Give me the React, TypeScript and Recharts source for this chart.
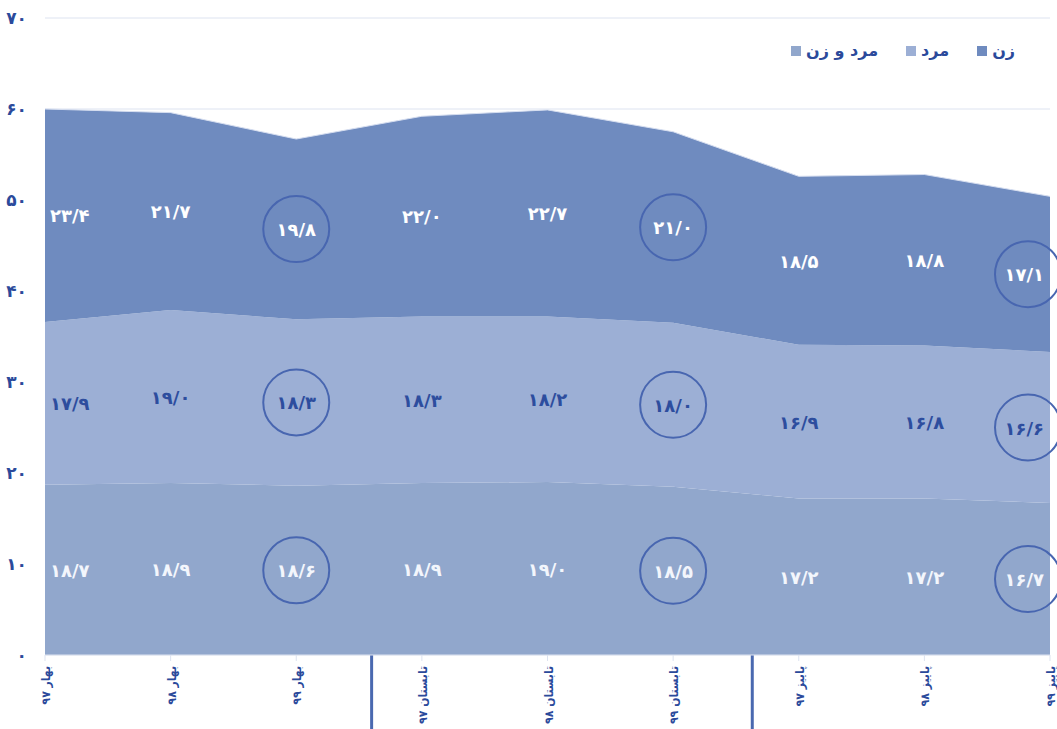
import React from 'react'
import {
  ComposedChart,
  Area,
  Line,
  XAxis,
  YAxis,
  CartesianGrid,
  LabelList,
  ReferenceLine,
} from 'recharts'

const categories = [
  'بهار ۹۷',
  'بهار ۹۸',
  'بهار ۹۹',
  'تابستان ۹۷',
  'تابستان ۹۸',
  'تابستان ۹۹',
  'پاییز ۹۷',
  'پاییز ۹۸',
  'پاییز ۹۹',
]
// stacked bottom -> top
const mardoZan = [18.7, 18.9, 18.6, 18.9, 19.0, 18.5, 17.2, 17.2, 16.7]
const mard = [17.9, 19.0, 18.3, 18.3, 18.2, 18.0, 16.9, 16.8, 16.6]
const zan = [23.4, 21.7, 19.8, 22.0, 22.7, 21.0, 18.5, 18.8, 17.1]
const yTicks = [0, 10, 20, 30, 40, 50, 60, 70]
const circled = [2, 5, 8]
const separators = [2.6, 5.63]

const C_ZAN = '#6f8bbf'
const C_MARD = '#9cafd5'
const C_BOTH = '#91a7cc'
const NAVY = '#2b4a9b'
const FONT = '"DejaVu Sans", sans-serif'
const FONT_NARROW = '"DejaVu Sans Condensed", "DejaVu Sans", sans-serif'

const data = categories.map((name, i) => ({
  i,
  name,
  mardoZan: mardoZan[i],
  mard: mard[i],
  zan: zan[i],
  midBottom: mardoZan[i] / 2,
  midMiddle: mardoZan[i] + mard[i] / 2,
  midTop: mardoZan[i] + mard[i] + zan[i] / 2,
}))

const faDigits = '۰۱۲۳۴۵۶۷۸۹'
const toFa = (s: string) => s.replace(/\d/g, (d) => faDigits[+d]).replace('.', '/')

const legendItems = [
  { label: 'مرد و زن', color: C_BOTH },
  { label: 'مرد', color: C_MARD },
  { label: 'زن', color: C_ZAN },
]

function makeLabel(values: number[], color: string) {
  return (props: any) => {
    const { x, y, index } = props
    const last = categories.length - 1
    let anchor: 'start' | 'middle' | 'end' = 'middle'
    let tx = x
    if (index === 0) {
      anchor = 'start'
      tx = x + 5
    } else if (index === last) {
      anchor = 'end'
      tx = x - 6
    }
    const cx = index === 0 ? x + 28 : index === last ? x - 22 : x
    return (
      <g>
        {circled.includes(index) && (
          <circle cx={cx} cy={y} r={33} fill="none" stroke="#4866b0" strokeWidth={2} />
        )}
        <text
          x={tx}
          y={y}
          dy={7}
          textAnchor={anchor}
          fill={color}
          fontFamily={FONT}
          fontWeight="bold"
          fontSize={18}
        >
          {toFa(values[index].toFixed(1))}
        </text>
      </g>
    )
  }
}

const XTick = (props: any) => {
  const { x, y, payload } = props
  return (
    <g transform={`translate(${x + 5},${y + 3}) rotate(-90)`}>
      <text textAnchor="end" fill={NAVY} fontFamily={FONT_NARROW} fontWeight="bold" fontSize={12}>
        {categories[payload.value]}
      </text>
    </g>
  )
}

const YTick = (props: any) => {
  const { x, y, payload } = props
  return (
    <text x={x} y={y} dy={6} textAnchor="end" fill={NAVY} fontFamily={FONT} fontWeight="bold" fontSize={17}>
      {toFa(String(payload.value))}
    </text>
  )
}

const Separator = (props: any) => {
  const { x1, y1, y2 } = props
  const base = Math.max(y1, y2)
  return <line x1={x1} x2={x1} y1={base} y2={base + 74} stroke="#4a69b0" strokeWidth={3} />
}

export default function App() {
  return (
    <div style={{ position: 'absolute', left: 0, top: 0, width: 1057, height: 729, background: '#fff' }}>
      <ComposedChart width={1057} height={729} data={data} margin={{ top: 18, right: 7, bottom: 0, left: 0 }}>
        <CartesianGrid vertical={false} stroke="#dde3f0" />
        <XAxis
          type="number"
          dataKey="i"
          domain={[0, 8]}
          ticks={[0, 1, 2, 3, 4, 5, 6, 7, 8]}
          interval={0}
          height={74}
          axisLine={{ stroke: '#dde3f0' }}
          tickLine={{ stroke: '#dde3f0' }}
          tickSize={6}
          tick={<XTick />}
        />
        <YAxis
          domain={[0, 70]}
          ticks={yTicks}
          width={45}
          axisLine={false}
          tickLine={false}
          tickSize={0}
          tickMargin={18}
          tick={<YTick />}
        />
        <Area
          dataKey="mardoZan"
          stackId="s"
          type="linear"
          fill={C_BOTH}
          fillOpacity={1}
          stroke="none"
          isAnimationActive={false}
        />
        <Area
          dataKey="mard"
          stackId="s"
          type="linear"
          fill={C_MARD}
          fillOpacity={1}
          stroke="none"
          isAnimationActive={false}
        />
        <Area
          dataKey="zan"
          stackId="s"
          type="linear"
          fill={C_ZAN}
          fillOpacity={1}
          stroke="#d6def0"
          strokeWidth={1}
          isAnimationActive={false}
        />
        <Line dataKey="midBottom" stroke="none" dot={false} activeDot={false} isAnimationActive={false}>
          <LabelList dataKey="midBottom" content={makeLabel(mardoZan, '#f3f6fc')} />
        </Line>
        <Line dataKey="midMiddle" stroke="none" dot={false} activeDot={false} isAnimationActive={false}>
          <LabelList dataKey="midMiddle" content={makeLabel(mard, '#2d4d9e')} />
        </Line>
        <Line dataKey="midTop" stroke="none" dot={false} activeDot={false} isAnimationActive={false}>
          <LabelList dataKey="midTop" content={makeLabel(zan, '#ffffff')} />
        </Line>
        {separators.map((s) => (
          <ReferenceLine key={s} x={s} ifOverflow="visible" shape={<Separator />} />
        ))}
      </ComposedChart>
      <div
        style={{
          position: 'absolute',
          right: 42,
          top: 41,
          display: 'flex',
          gap: 28,
          fontFamily: FONT,
          fontWeight: 'bold',
          fontSize: 16,
          color: NAVY,
        }}
      >
        {legendItems.map((it) => (
          <div key={it.label} style={{ display: 'flex', alignItems: 'center', gap: 5 }}>
            <span style={{ width: 10, height: 10, background: it.color, display: 'inline-block' }} />
            <span dir="rtl">{it.label}</span>
          </div>
        ))}
      </div>
    </div>
  )
}
